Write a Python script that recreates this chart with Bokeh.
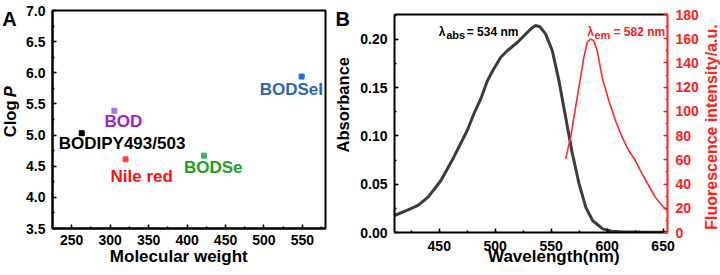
from math import pi
from bokeh.plotting import figure
from bokeh.models import (Range1d, LinearAxis, SingleIntervalTicker, FixedTicker,
                          NumeralTickFormatter, Label, ColumnDataSource, GridBox)
from bokeh.layouts import column
from bokeh.embed import file_html
from bokeh.resources import INLINE
from bokeh.core.properties import value

FONT = "Liberation Sans"

# ---------------- Panel A data ----------------
compounds = ["BODIPY493/503", "BOD", "Nile red", "BODSe", "BODSeI"]
mol_weight = [263, 305.5, 320, 422, 549]
clogp = [5.03, 5.39, 4.61, 4.67, 5.94]
marker_colors = ["#000000", "#a878e0", "#ff4444", "#3cb068", "#1f6fe0"]
text_colors = ["#000000", "#a020d0", "#ff1010", "#20a020", "#2a66b8"]
label_dx = [-23, -10, -15, -20, -42]
label_dy = [10.6, 10.7, 17, 11.7, 12.6]

# ---------------- Panel B data ----------------
abs_wl = [410, 422, 431, 440, 451.5, 463, 475, 481, 487, 493, 498, 505, 511, 520,
          526, 532, 536, 540, 545, 551, 557, 563, 569, 575, 581, 587, 596, 604,
          615, 630, 654]
abs_val = [0.0176, 0.0235, 0.028, 0.0366, 0.0538, 0.078, 0.1056, 0.123, 0.138,
           0.157, 0.168, 0.1815, 0.1884, 0.197, 0.204, 0.211, 0.2143, 0.213,
           0.2057, 0.1884, 0.157, 0.119, 0.0815, 0.0504, 0.026, 0.0124, 0.0038,
           0.0013, 0.0006, 0.0004, 0.0003]
em_wl = [563, 567.4, 571.8, 576.3, 579.2, 582.3, 585.2, 588.1, 591.2, 595.6,
         601.5, 607.5, 613.5, 619.3, 625.3, 631.3, 637.2, 643.1, 650.5, 654]
em_val = [60.8, 78.7, 103, 128, 144.6, 157, 159.8, 158.4, 150, 128, 109, 92.4,
          78.6, 67.7, 59.4, 48.4, 38.8, 29.1, 20.9, 18]


def style_axis(ax, interval, fmt, color="black", standoff=7):
    ax.ticker = SingleIntervalTicker(interval=interval, num_minor_ticks=2)
    ax.formatter = NumeralTickFormatter(format=fmt)
    ax.axis_line_color = color
    ax.axis_line_width = 2
    ax.major_tick_line_color = color
    ax.major_tick_line_width = 1.5
    ax.minor_tick_line_color = color
    ax.minor_tick_line_width = 1.5
    ax.major_tick_in = 4
    ax.major_tick_out = 0
    ax.minor_tick_in = 2
    ax.minor_tick_out = 0
    ax.major_label_text_font = FONT
    ax.major_label_text_font_style = "bold"
    ax.major_label_text_font_size = "14px"
    ax.major_label_text_color = color
    ax.major_label_standoff = standoff


def add_label(p, text, x, y, size, color="black", angle=0, align="left",
              baseline="alphabetic", style="bold", units="screen"):
    p.add_layout(Label(x=x, y=y, x_units=units, y_units=units, text=text,
                       angle=angle, text_align=align, text_baseline=baseline,
                       text_font=FONT, text_font_style=style,
                       text_font_size=size, text_color=color))


# ---------------- Panel A ----------------
pA = figure(width=335, height=275, x_range=Range1d(225, 580), y_range=Range1d(3.5, 7.0),
            output_backend="svg", toolbar_location=None,
            min_border_left=52, min_border_right=10, min_border_top=10, min_border_bottom=47)
pA.outline_line_color = "black"
pA.outline_line_width = 2
pA.outline_line_alpha = 1
pA.grid.visible = False
pA.background_fill_color = "white"
pA.border_fill_color = "white"
style_axis(pA.xaxis[0], 50, "0", standoff=6)
style_axis(pA.yaxis[0], 0.5, "0.0", standoff=7)

srcA = ColumnDataSource(dict(x=mol_weight, y=clogp, name=compounds, mc=marker_colors,
                             tc=text_colors, dx=label_dx, dy=label_dy))
pA.scatter("x", "y", source=srcA, marker="square", size=5, color="mc", line_color="mc")
pA.text("x", "y", text="name", source=srcA, x_offset="dx", y_offset="dy",
        text_color="tc", text_font=value(FONT), text_font_style="bold",
        text_font_size="17px", text_align="left", text_baseline="middle")

# ---------------- Panel B ----------------
pB = figure(width=385, height=275, x_range=Range1d(410, 654), y_range=Range1d(0, 0.2257),
            output_backend="svg", toolbar_location=None,
            min_border_left=59, min_border_right=53, min_border_top=14, min_border_bottom=43)
pB.extra_y_ranges = {"fl": Range1d(0, 180)}
pB.outline_line_color = None
pB.grid.visible = False
pB.background_fill_color = "white"
pB.border_fill_color = "white"
style_axis(pB.xaxis[0], 50, "0", standoff=8)
style_axis(pB.yaxis[0], 0.05, "0.00", standoff=7)

right_ax = LinearAxis(y_range_name="fl")
style_axis(right_ax, 20, "0", color="#ff2020", standoff=8)
pB.add_layout(right_ax, "right")

top_ax = LinearAxis(ticker=FixedTicker(ticks=[]))
top_ax.axis_line_width = 2
top_ax.axis_line_color = "black"
top_ax.major_tick_line_color = None
top_ax.minor_tick_line_color = None
top_ax.major_label_text_font_size = "0px"
top_ax.major_label_standoff = 0
top_ax.major_tick_out = 0
top_ax.major_tick_in = 0
pB.add_layout(top_ax, "above")

pB.line(abs_wl, abs_val, line_color="#3c3c3c", line_width=3)
pB.line(em_wl, em_val, y_range_name="fl", line_color="#ff2a2a", line_width=1.6)

# peak annotations (frame B: left 394, bottom 232)
add_label(pB, "\u03bb", 44.3, 201, "12px")
add_label(pB, "abs", 51.7, 197.7, "11px")
add_label(pB, "= 534 nm", 72.2, 201, "12px")
add_label(pB, "\u03bb", 192.7, 201, "12px", color="#ff2020")
add_label(pB, "em", 200, 197.7, "11px", color="#ff2020")
add_label(pB, "= 582 nm", 219, 201, "12px", color="#ff2020")

# ---------------- transparent overlay for titles outside frames ----------------
ov = figure(width=720, height=275, x_range=Range1d(0, 720), y_range=Range1d(275, 0),
            output_backend="svg", toolbar_location=None, x_axis_type=None, y_axis_type=None,
            min_border=0, min_border_left=0, min_border_right=0, min_border_top=0,
            min_border_bottom=0)
ov.outline_line_color = None
ov.grid.visible = False
ov.background_fill_alpha = 0
ov.border_fill_alpha = 0

add_label(ov, "A", 1.7, 18.3, "20px", units="data")
add_label(ov, "B", 335, 18, "20px", units="data")
add_label(ov, "Molecular weight", 178.3, 256, "17px", align="center", baseline="middle",
          units="data")
add_label(ov, "Wavelength(nm)", 553.3, 256, "17px", align="center", baseline="middle",
          units="data")
add_label(ov, "Clog", 9.5, 136.7, "16.5px", angle=pi / 2, baseline="middle", units="data")
add_label(ov, "P", 9.5, 96.7, "16.5px", angle=pi / 2, baseline="middle",
          style="bold italic", units="data")
add_label(ov, "Absorbance", 342.5, 104.2, "16.5px", angle=pi / 2, align="center",
          baseline="middle", units="data")
add_label(ov, "Fluorescence intensity/a.u.", 710.7, 126.5, "16px", color="#ff2020",
          angle=pi / 2, align="center", baseline="middle", units="data")

layout = GridBox(children=[(column(pA), 0, 0), (column(pB), 0, 1), (column(ov), 0, 0, 1, 2)],
                 spacing=0)
open("out.html", "w").write(file_html(layout, INLINE))
